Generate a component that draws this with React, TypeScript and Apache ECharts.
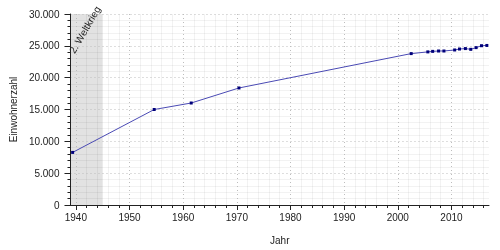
import React, { useEffect, useRef } from "react";
import * as echarts from "echarts";

const years = [1939.4, 1954.6, 1961.5, 1970.4, 2002.5, 2005.6, 2006.5, 2007.6, 2008.6, 2010.6, 2011.5, 2012.6, 2013.6, 2014.6, 2015.6, 2016.6];
const population = [8260, 15000, 16020, 18380, 23780, 24050, 24130, 24190, 24190, 24350, 24500, 24570, 24450, 24720, 25020, 25060];
const majorYears = [1940, 1950, 1960, 1970, 1980, 1990, 2000, 2010];
const minorYears = [1942, 1944, 1946, 1948, 1952, 1954, 1956, 1958, 1962, 1964, 1966, 1968, 1972, 1974, 1976, 1978, 1982, 1984, 1986, 1988, 1992, 1994, 1996, 1998, 2002, 2004, 2006, 2008, 2012, 2014, 2016];
const warPeriod = [1939, 1945];
const warLabel = "2. Weltkrieg";

const FONT = "Liberation Sans, Arial, sans-serif";
const fmt = (v: number) => String(v).replace(/\B(?=(\d{3})+(?!\d))/g, ".");

export default function App() {
  const ref = useRef<HTMLDivElement>(null);
  useEffect(() => {
    if (!ref.current) return;
    const chart = echarts.init(ref.current, null, { renderer: "svg" });
    chart.setOption({
      animation: false,
      textStyle: { fontFamily: FONT },
      grid: { left: 68, right: 11, top: 14, bottom: 45 },
      xAxis: [
        {
          type: "value",
          min: 1939,
          max: 2017,
          z: 3,
          name: "Jahr",
          nameLocation: "middle",
          nameGap: 30,
          nameTextStyle: { fontSize: 10, color: "#222", fontFamily: FONT },
          axisLine: { show: true, onZero: false, lineStyle: { color: "#222", width: 1 } },
          axisTick: { show: true, customValues: majorYears, length: 5, lineStyle: { color: "#222" } },
          axisLabel: { customValues: majorYears, fontSize: 10, color: "#222", margin: 7, fontFamily: FONT, formatter: (v: number) => String(v) },
          splitLine: { show: true, lineStyle: { color: "#bdbdbd", type: [1, 3], width: 1 } },
        },
        {
          type: "value",
          min: 1939,
          max: 2017,
          z: 2,
          position: "bottom",
          axisLine: { show: false },
          axisTick: { show: true, customValues: minorYears, length: 3, lineStyle: { color: "#222" } },
          axisLabel: { show: false },
          splitLine: { show: true, lineStyle: { color: "rgba(0,0,0,0.05)", width: 1 } },
        },
      ],
      yAxis: {
        type: "value",
        min: 0,
        max: 30000,
        interval: 5000,
        z: 3,
        name: "Einwohnerzahl",
        nameLocation: "middle",
        nameGap: 51,
        nameTextStyle: { fontSize: 10, color: "#222", fontFamily: FONT },
        axisLine: { show: true, lineStyle: { color: "#222", width: 1 } },
        axisTick: { show: true, length: 6, lineStyle: { color: "#222" } },
        minorTick: { show: true, splitNumber: 5, length: 3, lineStyle: { color: "#222" } },
        axisLabel: { fontSize: 10, color: "#222", margin: 11, formatter: (v: number) => fmt(v), fontFamily: FONT },
        splitLine: { show: true, lineStyle: { color: "#bdbdbd", type: [1, 3], width: 1 } },
        minorSplitLine: { show: true, lineStyle: { color: "rgba(0,0,0,0.05)", width: 1 } },
      },
      series: [
        {
          type: "line",
          xAxisIndex: 0,
          data: [],
          z: 1,
          markArea: {
            silent: true,
            itemStyle: { color: "#e2e2e2" },
            data: [[{ xAxis: warPeriod[0] }, { xAxis: warPeriod[1] }]],
          },
        },
        {
          type: "line",
          xAxisIndex: 0,
          data: years.map((y, i) => [y, population[i]]),
          symbol: "rect",
          symbolSize: 3,
          showSymbol: true,
          lineStyle: { color: "#4a4ab4", width: 1 },
          itemStyle: { color: "#00007a" },
          z: 5,
        },
      ],
      graphic: [
        {
          type: "text",
          x: 76,
          y: 55,
          z: 100,
          rotation: (60 * Math.PI) / 180,
          style: {
            text: warLabel,
            fontSize: 10,
            fontFamily: FONT,
            fill: "#222",
            align: "left",
            verticalAlign: "bottom",
          },
        },
      ],
    });
    return () => chart.dispose();
  }, []);
  return <div ref={ref} style={{ position: "fixed", left: 0, top: 0, width: 500, height: 250 }} />;
}
